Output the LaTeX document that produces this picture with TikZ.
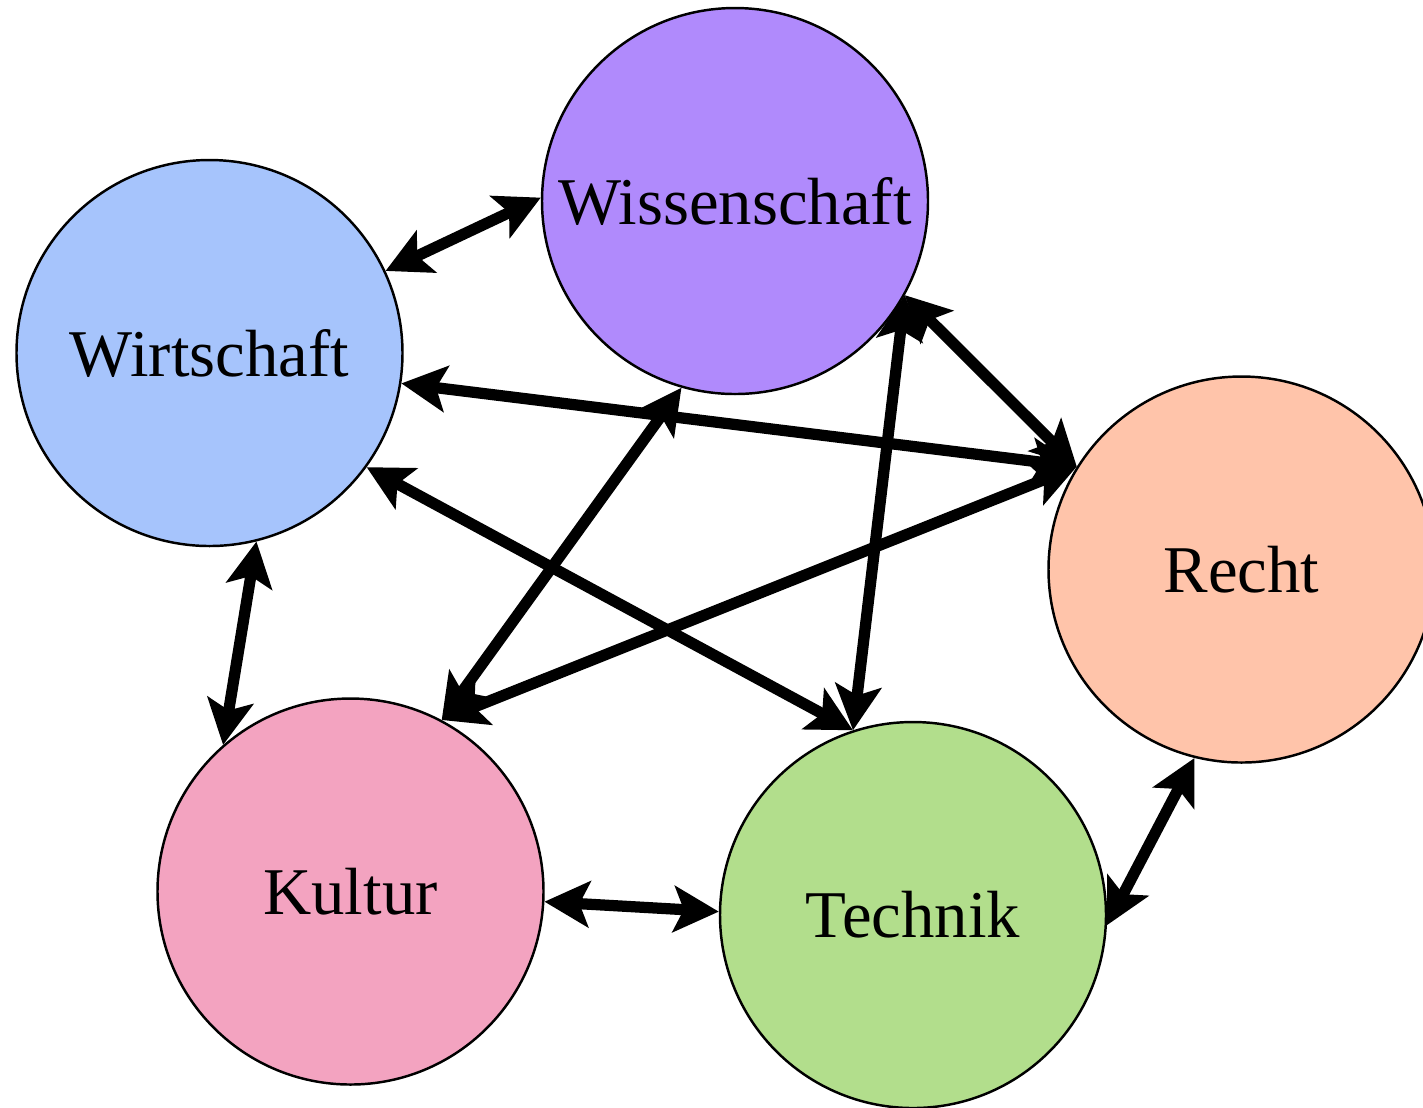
\documentclass[tikz,border=0pt]{standalone}
\usepackage{fontspec}
\setmainfont{Liberation Serif}
\usetikzlibrary{arrows.meta}
\definecolor{FieldWiss}{RGB}{176,138,252}
\definecolor{FieldWirt}{RGB}{166,196,252}
\definecolor{FieldRecht}{RGB}{255,196,170}
\definecolor{FieldKult}{RGB}{243,163,192}
\definecolor{FieldTech}{RGB}{178,222,140}

\begin{document}
\begin{tikzpicture}[
  field/.style={circle, draw=black, line width=0.7pt, minimum size=3.86cm, inner sep=0pt,
                font=\fontsize{19}{23}\selectfont},
  link/.style={{Stealth[length=0.45cm, width=0.46cm, inset=0.1cm]}-{Stealth[length=0.45cm, width=0.46cm, inset=0.1cm]},
               line width=3.2pt}
]
\useasboundingbox (0,0) rectangle (14.23,-11.07);
\node[field, fill=FieldWiss] (Wiss) at (7.35,-2.01) {Wissenschaft};
\node[field, fill=FieldWirt] (Wirt) at (2.095,-3.53) {Wirtschaft};
\node[field, fill=FieldRecht] (Recht) at (12.415,-5.695) {Recht};
\node[field, fill=FieldKult] (Kult) at (3.505,-8.915) {Kultur};
\node[field, fill=FieldTech] (Tech) at (9.13,-9.15) {Technik};
% connections
\draw[link] (Wirt.25) -- (Wiss.179);
\draw[link] (Wirt.-9) -- (Recht.148);
\draw[link] (Wirt.-36) -- (Tech.108);
\draw[link] (Wirt.-76) -- (Kult.131);
\draw[link] (Wiss.-29) -- (Recht.148);
\draw[link] (Wiss.-29) -- (Tech.108);
\draw[link] (Wiss.-106) -- (Kult.62);
\draw[link] (Recht.148) -- (Kult.62);
\draw[link] (Tech.-3) -- (Recht.-104);
\draw[link] (Kult.-3) -- (Tech.179);
\end{tikzpicture}
\end{document}
